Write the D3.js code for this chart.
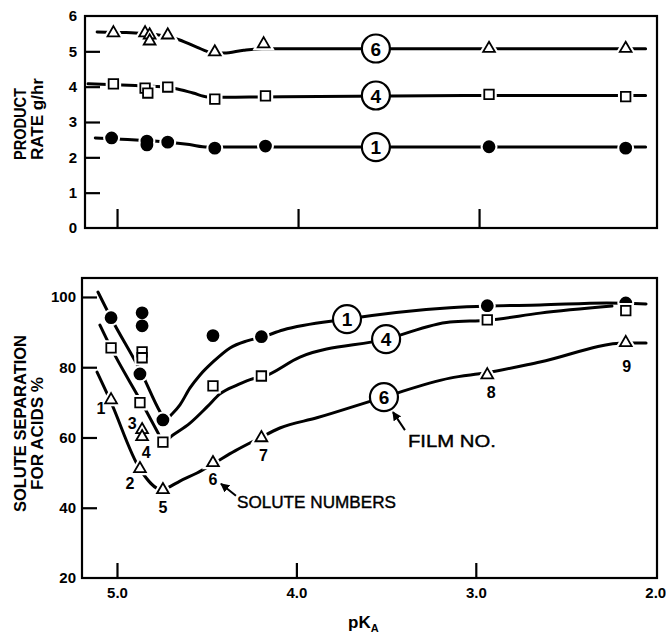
<!DOCTYPE html>
<html><head><meta charset="utf-8">
<script src="https://cdn.jsdelivr.net/npm/d3@7/dist/d3.min.js"></script>
<style>body{margin:0;background:#fff}</style>
</head><body>
<svg id="c" width="666" height="637"></svg>
<script>
// ---------------- DATA ----------------
const xTickValues = [5.0, 4.0, 3.0, 2.0];
const xTickLabels = ["5.0", "4.0", "3.0", "2.0"];
const rateTicks = [0, 1, 2, 3, 4, 5, 6];
const sepTicks = [20, 40, 60, 80, 100];
const filmNames = ["1", "4", "6"];

// Top panel: product rate (g/hr) measured points
const rate6Pka = [5.02, 4.845, 4.82, 4.82, 4.72, 4.46, 4.19, 2.945, 2.19];
const rate6    = [5.52, 5.52, 5.46, 5.29, 5.46, 4.98, 5.21, 5.08, 5.08];
const rate4Pka = [5.02, 4.845, 4.83, 4.72, 4.46, 4.18, 2.945, 2.19];
const rate4    = [4.08, 3.96, 3.82, 3.99, 3.65, 3.74, 3.78, 3.72];
const rate1Pka = [5.03, 4.835, 4.835, 4.72, 4.46, 4.18, 2.945, 2.19];
const rate1    = [2.55, 2.46, 2.35, 2.43, 2.26, 2.32, 2.30, 2.26];

// Top panel: drawn curves
const rateFit6Pka = [5.11, 4.95, 4.78, 4.67, 4.56, 4.48, 4.41, 4.30, 4.20, 3.50, 2.08];
const rateFit6    = [5.55, 5.53, 5.47, 5.35, 5.12, 4.97, 4.95, 5.03, 5.07, 5.07, 5.07];
const rateFit4Pka = [5.16, 4.90, 4.73, 4.68, 4.58, 4.50, 4.40, 4.20, 3.00, 2.08];
const rateFit4    = [4.08, 4.03, 3.99, 3.95, 3.82, 3.71, 3.70, 3.71, 3.75, 3.75];
const rateFit1Pka = [5.12, 5.00, 4.72, 4.60, 4.50, 4.40, 2.08];
const rateFit1    = [2.55, 2.52, 2.43, 2.36, 2.29, 2.29, 2.29];

// Bottom panel: solute separation (%) for solutes 1..9
const soluteNumbers = ["1", "2", "3", "4", "5", "6", "7", "8", "9"];
const solutePka = [5.033, 4.872, 4.86, 4.86, 4.744, 4.465, 4.195, 2.936, 2.164];
const sep1 = [94.1, 78.1, 95.5, 91.8, 65.0, 89.0, 88.7, 97.5, 98.3];
const sep4 = [85.5, 69.9, 84.4, 82.7, 58.7, 74.7, 77.5, 93.5, 96.1];
const sep6 = [70.7, 51.1, 62.2, 60.2, 45.1, 52.8, 59.9, 77.8, 87.0];

// Bottom panel: drawn curves
const sepFit1Pka = [5.106, 5.033, 4.861, 4.760, 4.732, 4.693, 4.649, 4.593, 4.537, 4.465, 4.370, 4.275, 4.192, 4.075, 3.718, 3.144, 2.932, 2.642, 2.269, 2.051];
const sepFit1    = [101.4, 94.0, 78.1, 67.3, 65.0, 66.7, 69.3, 74.1, 77.8, 81.5, 85.5, 87.5, 88.6, 90.6, 93.7, 96.9, 97.4, 97.7, 98.3, 98.0];
const sepFit4Pka = [5.095, 5.033, 4.861, 4.771, 4.744, 4.688, 4.593, 4.498, 4.426, 4.331, 4.242, 4.192, 3.980, 3.500, 3.144, 2.932, 2.642, 2.241];
const sepFit4    = [92.0, 85.5, 69.8, 61.3, 58.7, 60.7, 64.1, 68.7, 72.4, 74.9, 76.7, 77.2, 82.9, 88.0, 92.9, 93.4, 95.4, 97.4];
const sepFit6Pka = [5.111, 5.039, 4.872, 4.749, 4.721, 4.649, 4.554, 4.465, 4.342, 4.203, 4.092, 3.886, 3.512, 3.144, 2.943, 2.642, 2.163, 2.051];
const sepFit6    = [78.6, 70.7, 51.0, 45.1, 45.6, 47.6, 49.9, 52.5, 56.2, 59.9, 62.7, 65.6, 71.5, 76.9, 78.4, 81.5, 86.9, 86.9];

// Film label positions (on curves)
const topLabelPka = [3.57, 3.57, 3.57];
const topLabelVal = [2.29, 3.75, 5.08];
const botLabelPka = [3.718, 3.50, 3.512];
const botLabelVal = [93.7, 88.0, 71.5];

// ---------------- DRAWING ----------------
const FONT = "'Liberation Sans', Arial, Helvetica, sans-serif";
const svg = d3.select("#c").style("font-family", FONT);

const xTop = d3.scaleLinear().domain([5.177, 2.017]).range([85, 657]);
const yTop = d3.scaleLinear().domain([0, 6]).range([228, 16]);
const xBot = d3.scaleLinear().domain([5.195, 1.99]).range([82, 657]);
const yBot = d3.scaleLinear().domain([20, 105.4]).range([578, 278]);

const zip = (a, b) => a.map((v, i) => [v, b[i]]);

function frame(x, y) {
  svg.append("rect")
    .attr("x", x.range()[0]).attr("y", y.range()[1])
    .attr("width", x.range()[1] - x.range()[0])
    .attr("height", y.range()[0] - y.range()[1])
    .attr("fill", "none").attr("stroke", "#000").attr("stroke-width", 2.2);
}

function styleAxis(g, size) {
  g.select(".domain").remove();
  g.selectAll(".tick line").attr("stroke", "#000").attr("stroke-width", 2.2);
  g.selectAll(".tick text").attr("fill", "#000").style("font-family", FONT)
    .style("font-size", size + "px").style("font-weight", "bold");
}

// ---- top panel axes
frame(xTop, yTop);
svg.append("g").attr("transform", `translate(${xTop.range()[0]},0)`)
  .call(d3.axisLeft(yTop).tickValues(rateTicks).tickFormat(d3.format("d"))
    .tickSizeInner(-15).tickSizeOuter(0).tickPadding(8))
  .call(g => styleAxis(g, 15))
  .call(g => g.selectAll(".tick").filter(d => d === 0 || d === 6).select("line").remove());
svg.append("g").attr("transform", `translate(0,${yTop.range()[0]})`)
  .call(d3.axisBottom(xTop).tickValues([5, 4, 3]).tickFormat("")
    .tickSizeInner(-19).tickSizeOuter(0))
  .call(g => styleAxis(g, 15));

// ---- bottom panel axes
frame(xBot, yBot);
svg.append("g").attr("transform", `translate(${xBot.range()[0]},0)`)
  .call(d3.axisLeft(yBot).tickValues(sepTicks).tickFormat(d3.format("d"))
    .tickSizeInner(-15).tickSizeOuter(0).tickPadding(6))
  .call(g => styleAxis(g, 15))
  .call(g => g.selectAll(".tick").filter(d => d === 20).select("line").remove());
svg.append("g").attr("transform", `translate(0,${yBot.range()[0]})`)
  .call(d3.axisBottom(xBot).tickValues(xTickValues).tickFormat((d, i) => xTickLabels[i])
    .tickSizeInner(-15).tickSizeOuter(0).tickPadding(9))
  .call(g => styleAxis(g, 15))
  .call(g => g.selectAll(".tick").filter(d => d === 2).select("line").remove());

// ---- axis titles
function vtitle(text, x, y, anchor, len) {
  svg.append("text")
    .attr("transform", `translate(${x},${y}) rotate(-90)`)
    .attr("text-anchor", anchor)
    .attr("textLength", len).attr("lengthAdjust", "spacingAndGlyphs")
    .style("font-size", "16px").style("font-weight", "bold")
    .text(text);
}
vtitle("PRODUCT", 26, 160, "start", 72);
vtitle("RATE g/hr", 43, 160, "start", 82);
vtitle("SOLUTE SEPARATION", 26, 512, "start", 177);
vtitle("FOR ACIDS %", 43, 490, "start", 113);

const pk = svg.append("text").attr("x", 348).attr("y", 628)
  .style("font-size", "17px").style("font-weight", "bold");
pk.append("tspan").text("pK");
pk.append("tspan").attr("dy", 4).style("font-size", "11px").text("A");

// ---- curves
function curve(x, y, pkas, vals) {
  const line = d3.line().x(d => x(d[0])).y(d => y(d[1])).curve(d3.curveMonotoneX);
  svg.append("path").datum(zip(pkas, vals)).attr("d", line)
    .attr("fill", "none").attr("stroke", "#000").attr("stroke-width", 3)
    .attr("stroke-linecap", "round");
}
curve(xTop, yTop, rateFit6Pka, rateFit6);
curve(xTop, yTop, rateFit4Pka, rateFit4);
curve(xTop, yTop, rateFit1Pka, rateFit1);
curve(xBot, yBot, sepFit1Pka, sepFit1);
curve(xBot, yBot, sepFit4Pka, sepFit4);
curve(xBot, yBot, sepFit6Pka, sepFit6);

// ---- markers
const SYM = {
  circle: { type: d3.symbolCircle, size: 95, fill: "#000" },
  square: { type: d3.symbolSquare, size: 90, fill: "#fff" },
  triangle: { type: d3.symbolTriangle, size: 60, fill: "#fff" }
};
function markers(x, y, pkas, vals, kind) {
  const s = SYM[kind];
  const pts = zip(pkas, vals);
  const path = d3.symbol().type(s.type).size(s.size)();
  const g = svg.append("g");
  g.selectAll("path.halo").data(pts).join("path").attr("class", "halo")
    .attr("d", path).attr("transform", d => `translate(${x(d[0])},${y(d[1])})`)
    .attr("fill", "#fff").attr("stroke", "#fff").attr("stroke-width", 6);
  g.selectAll("path.mk").data(pts).join("path").attr("class", "mk")
    .attr("d", path).attr("transform", d => `translate(${x(d[0])},${y(d[1])})`)
    .attr("fill", s.fill).attr("stroke", "#000").attr("stroke-width", 1.8);
}
markers(xTop, yTop, rate6Pka, rate6, "triangle");
markers(xTop, yTop, rate4Pka, rate4, "square");
markers(xTop, yTop, rate1Pka, rate1, "circle");
markers(xBot, yBot, solutePka, sep1, "circle");
markers(xBot, yBot, solutePka, sep4, "square");
markers(xBot, yBot, solutePka, sep6, "triangle");

// ---- film number circles
function filmLabels(x, y, pkas, vals) {
  const g = svg.append("g");
  pkas.forEach((p, i) => {
    g.append("circle").attr("cx", x(p)).attr("cy", y(vals[i])).attr("r", 14)
      .attr("fill", "#fff").attr("stroke", "#000").attr("stroke-width", 2.2);
    g.append("text").attr("x", x(p)).attr("y", y(vals[i]) + 7)
      .attr("text-anchor", "middle").style("font-size", "19px").style("font-weight", "bold")
      .text(filmNames[i]);
  });
}
filmLabels(xTop, yTop, topLabelPka, topLabelVal);
filmLabels(xBot, yBot, botLabelPka, botLabelVal);

// ---- solute number labels (offsets relative to film 6 triangles)
const soluteLabelDx = [-10, -10, -10, 4, 0, 0, 2, 4, 1];
const soluteLabelDy = [8, 14, -7, 15, 17, 16, 17, 17, 23];
soluteNumbers.forEach((n, i) => {
  svg.append("text")
    .attr("x", xBot(solutePka[i]) + soluteLabelDx[i])
    .attr("y", yBot(sep6[i]) + soluteLabelDy[i] + 6)
    .attr("text-anchor", "middle").style("font-size", "16px").style("font-weight", "bold")
    .text(n);
});

// ---- annotations with arrows
svg.append("defs").append("marker").attr("id", "ah")
  .attr("viewBox", "0 0 10 10").attr("refX", 9).attr("refY", 5)
  .attr("markerWidth", 9).attr("markerHeight", 9).attr("markerUnits", "userSpaceOnUse")
  .attr("orient", "auto")
  .append("path").attr("d", "M0,0 L10,5 L0,10 Z").attr("fill", "#000");

function annotate(text, tx, ty, len, ax1, ay1, ax2, ay2) {
  svg.append("text").attr("x", tx).attr("y", ty)
    .attr("textLength", len).attr("lengthAdjust", "spacingAndGlyphs")
    .style("font-size", "17px").attr("stroke", "#000").attr("stroke-width", 0.4)
    .text(text);
  svg.append("line").attr("x1", ax1).attr("y1", ay1).attr("x2", ax2).attr("y2", ay2)
    .attr("stroke", "#000").attr("stroke-width", 2).attr("marker-end", "url(#ah)");
}
// FILM NO. points to film 6 label circle
const f6x = xBot(botLabelPka[2]), f6y = yBot(botLabelVal[2]);
annotate("FILM NO.", f6x + 24, f6y + 50, 88, f6x + 21, f6y + 33, f6x + 9, f6y + 15);
// SOLUTE NUMBERS points to the solute 6 label
const s6x = xBot(solutePka[5]), s6y = yBot(sep6[5]);
annotate("SOLUTE NUMBERS", s6x + 24, s6y + 45, 159, s6x + 23, s6y + 33, s6x + 8, s6y + 21);
</script>
</body></html>
